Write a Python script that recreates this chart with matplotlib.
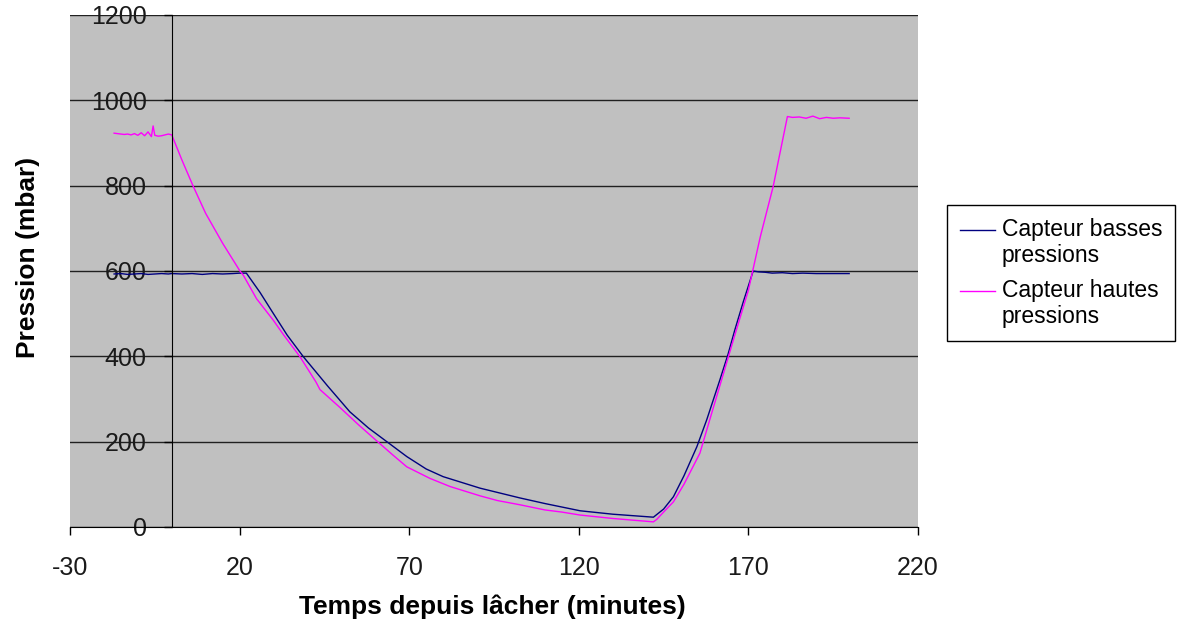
import numpy as np
import matplotlib
matplotlib.use("Agg")
import matplotlib.pyplot as plt
from matplotlib.legend_handler import HandlerLine2D

plt.rcParams['font.family'] = ['Liberation Sans', 'DejaVu Sans']
plt.rcParams['axes.unicode_minus'] = False

# ---- données ----
# capteur basses pressions (bleu)
t_basses = [-17, -15, -13, -11, -9, -7, -5, -3, -1, 0, 3, 6, 9, 12, 15, 18, 20, 22,
            26, 29.9, 34, 38.8, 46, 52.5, 58, 63.4, 69.3, 75, 80, 90.9, 102.7, 110,
            120.4, 130, 142, 145, 147.9, 151, 154.8, 157.7, 161.6, 164, 166, 168.5,
            171.4, 173, 175, 177, 180, 183, 186, 190, 194, 197, 199.7]
p_basses = [593, 594, 592, 593, 594, 592, 593, 594, 593, 594, 593, 594, 592, 594, 593, 594, 595, 595,
            550, 501, 450, 399, 330, 270, 232, 200, 165, 136, 118, 91, 68, 55,
            38, 30, 23, 42, 71, 120, 188, 251, 345, 405, 462, 528,
            600, 598, 597, 595, 596, 594, 595, 594, 594, 594, 594]

# capteur hautes pressions (magenta)
t_hautes = [-17, -16, -15, -14, -13, -12, -11, -10, -9, -8, -7, -6, -5.5, -5, -4, -3, -2, -1, 0,
            3, 6.3, 10, 15, 20.1, 21.1, 25, 29.9, 33, 37.8, 42.5, 43.7, 49.6, 55, 60.4, 65,
            69.3, 76.1, 82, 90.9, 96, 102.7, 110, 115, 120.4, 130, 136, 142, 143, 145,
            147.9, 151, 155.7, 159, 162.1, 166, 170, 173.5, 177.3, 181.5,
            183, 185, 187, 189, 191, 193, 195, 197, 199.7]
p_hautes = [923, 922, 921, 920, 921, 919, 922, 918, 924, 917, 926, 915, 940, 918, 916, 917, 919, 921, 919,
            860, 799, 735, 665, 600, 590, 535, 485, 450, 399, 340, 322, 280, 240, 202, 170,
            141, 114, 95, 73, 62, 52, 40, 35, 28, 20, 16, 12, 18, 35,
            59, 100, 173, 262, 345, 450, 555, 680, 798, 962,
            960, 961, 958, 963, 957, 960, 958, 959, 958]

x_ticks = [-30, 20, 70, 120, 170, 220]
y_ticks = [0, 200, 400, 600, 800, 1000, 1200]


class HandlerTopLine(HandlerLine2D):
    # trait de légende aligné sur la première ligne du texte (comme Excel)
    def create_artists(self, legend, orig_handle, xdescent, ydescent,
                       width, height, fontsize, trans):
        arts = super().create_artists(legend, orig_handle, xdescent, ydescent,
                                      width, height, fontsize, trans)
        for a in arts:
            a.set_ydata(np.asarray(a.get_ydata()) + 0.6 * fontsize)
        return arts


fig = plt.figure(figsize=(11.84, 6.22), dpi=100)
ax = fig.add_axes([70/1184, 95/622, 848/1184, 512/622])
ax.set_facecolor('#c0c0c0')

l1, = ax.plot(t_basses, p_basses, color='#000080', lw=1.0, label='Capteur basses\npressions')
l2, = ax.plot(t_hautes, p_hautes, color='#ff00ff', lw=1.0, label='Capteur hautes\npressions')

ax.set_xlim(-30, 220)
ax.set_ylim(0, 1200)
ax.set_xticks(x_ticks)
ax.set_yticks(y_ticks)
ax.yaxis.grid(True, color='#202020', lw=1.0)
ax.set_axisbelow(True)

ax.spines['left'].set_position(('data', 0))
ax.spines['top'].set_visible(False)
ax.spines['right'].set_visible(False)

ax.tick_params(axis='x', direction='out', length=6, width=1, pad=15, labelsize=18)
ax.tick_params(axis='y', direction='out', length=6, width=1, pad=12, labelsize=18)
for lab in ax.get_xticklabels() + ax.get_yticklabels():
    lab.set_color('#1a1a1a')

ax.set_xlabel('Temps depuis lâcher (minutes)', fontsize=19, fontweight='bold')
ax.xaxis.set_label_coords(0.4976, -0.156)
ax.xaxis.label.set_va('center')
ax.set_ylabel('Pression (mbar)', fontsize=19, fontweight='bold')
ax.yaxis.set_label_coords(-0.05, 0.527)
ax.yaxis.label.set_va('center')

leg = fig.legend(handles=[l1, l2], loc='upper left',
                 bbox_to_anchor=(947/1184, 1 - 205/622), borderaxespad=0,
                 fontsize=16.5, frameon=True, fancybox=False, framealpha=1,
                 edgecolor='black', handlelength=1.55, handletextpad=0.3,
                 borderpad=0.55, labelspacing=0.5,
                 handler_map={l1: HandlerTopLine(), l2: HandlerTopLine()})
leg.get_frame().set_linewidth(1.0)

fig.savefig('out.png', dpi=100, facecolor='white')
